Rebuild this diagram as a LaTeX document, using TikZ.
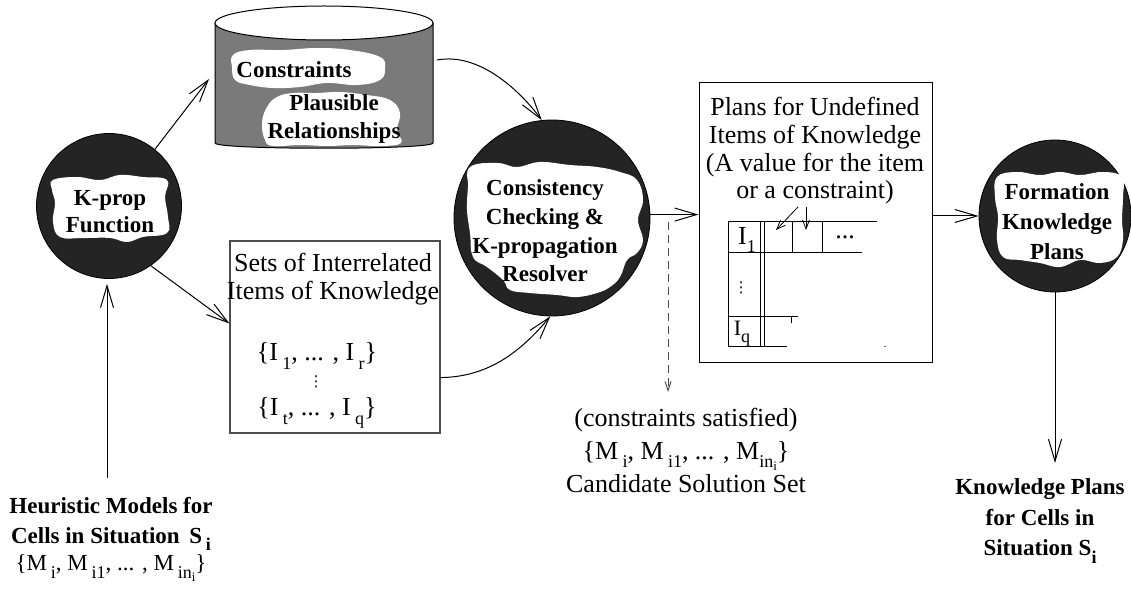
\documentclass[tikz,border=0pt]{standalone}
\usepackage{fontspec}
\setmainfont{Liberation Serif}
\newfontfamily\dotsfont{DejaVu Sans}
\usetikzlibrary{arrows.meta,calc}
% lowered index, set in a smaller size
\newcommand\lw[1]{\raisebox{-0.32em}{\fontsize{18}{18}\selectfont #1}}
\newcommand\lww[1]{\raisebox{-0.18em}{\fontsize{13}{13}\selectfont #1}}
\begin{document}
\begin{tikzpicture}[x=1pt,y=-1pt,
  arr/.style={line width=1pt,-{Straight Barb[length=22pt,width=13pt]}},
  tarr/.style={line width=0.8pt,-{Straight Barb[length=9pt,width=7pt]}},
  dasharr/.style={draw=black!70,line width=1pt,dash pattern=on 8pt off 5pt,-{Straight Barb[length=9pt,width=6pt]}},
  hub/.style={circle,fill=black!86,draw=black,line width=0.8pt,inner sep=0pt},
  blob/.style={fill=white,draw=none},
  lbl/.style={font=\fontsize{26}{28}\selectfont,align=center,inner sep=0pt},
  blbl/.style={font=\bfseries\fontsize{23}{28}\selectfont,align=center,inner sep=0pt},
  vdot/.style={font=\dotsfont\fontsize{15}{15}\selectfont,inner sep=0pt},
  grid/.style={line width=1pt}]
\useasboundingbox (0,0) rectangle (1131,593);

% ---------- database cylinder ----------
\fill[black!52] (215,23) -- (215,143) .. controls (215,150) and (433,150) .. (433,143) -- (433,23) -- cycle;
\draw[line width=1pt] (215,23) -- (215,143) .. controls (215,150) and (433,150) .. (433,143) -- (433,23);
\draw[line width=1pt,fill=white] (324,23) ellipse [x radius=109pt, y radius=17pt];
\fill[blob] plot[smooth cycle,tension=0.7] coordinates {(233,55) (250,50) (283,50) (317,48) (350,50) (380,57)
  (385,68) (380,80) (357,85) (327,83) (300,87) (273,88) (250,85) (235,80) (232,67)};
\fill[blob] plot[smooth cycle,tension=0.7] coordinates {(277,97) (293,93) (317,93) (340,92) (367,95) (390,100)
  (400,113) (397,130) (401,143) (380,146) (353,145) (327,146) (300,145) (273,146) (265,140) (262,123) (267,107)};
\node[blbl] (conslbl) at (294,70) {Constraints};
\node[blbl] (plaulbl) at (334,119) {Plausible\\Relationships};

% ---------- K-prop function ----------
\node[hub,minimum size=145pt] (kprop) at (109,206) {};
\fill[blob] plot[smooth cycle,tension=0.7] coordinates {(53,180) (77,177) (100,180) (120,175) (143,177) (167,180)
  (165,197) (168,217) (167,233) (143,237) (127,242) (110,238) (83,238) (60,237) (53,222) (55,203) (52,190)};
\node[blbl,font=\bfseries\fontsize{23}{27}\selectfont] (kproplbl) at (110,212) {K-prop\\Function};

% ---------- sets of interrelated items ----------
\node[draw=black!70,line width=1.2pt,minimum width=210pt,minimum height=192pt,inner sep=0pt] (sets) at (335,337) {};
\node[lbl] (setslbl) at (333,279) {Sets of Interrelated\\Items of Knowledge};
\node[lbl] (setone) at (317,356) {\{I\,\lw{1}, ... , I\,\lw{r}\}};
\node[vdot] (setdots) at (316,382) {⋮};
\node[lbl] (settwo) at (317,413) {\{I\,\lw{t}, ... , I\,\lw{q}\}};

% ---------- resolver ----------
\node[hub,minimum size=196pt] (resolver) at (552,218) {};
\fill[blob] plot[smooth cycle,tension=0.7] coordinates {(470,167) (497,163) (517,167) (540,162) (570,165) (597,167)
  (620,172) (637,180) (643,200) (638,220) (643,240) (637,253) (627,260) (620,277) (610,287) (597,293) (577,297)
  (557,295) (530,293) (510,290) (503,280) (487,267) (473,257) (470,233) (467,210) (468,187)};
\node[blbl,font=\bfseries\fontsize{23}{28.7}\selectfont] (reslbl) at (545,231) {Consistency\\Checking \&\\K-propagation\\Resolver};

% ---------- plans box with its table ----------
\node[draw,line width=1pt,minimum width=233pt,minimum height=279pt,inner sep=0pt] (plans) at (815.5,222.5) {};
\node[lbl,font=\fontsize{26}{27.7}\selectfont] (planslbl) at (815,151) {Plans for Undefined\\Items of Knowledge\\(A value for the item\\or a constraint)};
\draw[grid] (728,222) -- (877,222);
\draw[grid] (728,253) -- (862,253);
\draw[grid] (728,222) -- (728,346);
\draw[grid] (760,222) -- (760,346);
\draw[grid] (764,222) -- (764,346);
\draw[grid] (792,222) -- (792,253);
\draw[grid] (822,222) -- (822,253);
\draw[grid] (728,316) -- (798,316);
\draw[grid] (791,316) -- (791,323);
\draw[grid] (728,346) -- (787,346);
\draw[black!60,line width=0.8pt] (884,346) -- (886,346);
\node[lbl] (ione) at (747,240) {I\lw{1}};
\node[lbl] (idots) at (845,237) {...};
\node[vdot] (tdots) at (741,288) {⋮};
\node[lbl,font=\fontsize{22}{22}\selectfont] (iq) at (742,334) {I\lw{q}};
\coordinate (ta1) at (798,207);
\coordinate (ta1e) at (776,230);
\coordinate (ta2) at (806,207);
\coordinate (ta2e) at (806,230);
\draw[tarr] (ta1) -- (ta1e);
\draw[tarr] (ta2) -- (ta2e);

% ---------- formation knowledge plans ----------
\node[hub,minimum size=152pt] (form) at (1055,216) {};
\fill[blob] plot[smooth cycle,tension=0.7] coordinates {(997,177) (1017,172) (1040,175) (1060,172) (1080,175) (1103,172)
  (1122,177) (1123,197) (1122,220) (1123,240) (1117,257) (1100,263) (1080,260) (1060,267) (1040,263) (1020,260)
  (1003,257) (997,240) (998,217) (995,197)};
\node[blbl,font=\bfseries\fontsize{23}{30}\selectfont] (formlbl) at (1057,222) {Formation\\Knowledge\\Plans};

% ---------- free labels ----------
\node[blbl,font=\bfseries\fontsize{23}{30}\selectfont] (heur) at (111,524) {Heuristic Models for\\Cells in Situation~\,S\,\lw{i}};
\node[lbl,font=\fontsize{23}{23}\selectfont] (heurset) at (111,568) {\{M\,\lw{i}, M\,\lw{i1}, ... , M\,\lw{in\lww{i}}\}};
\node[lbl,font=\fontsize{26}{33}\selectfont] (cand) at (686,450) {(constraints satisfied)\\\{M\,\lw{i}, M\,\lw{i1}, ... , M\lw{in\lww{i}}\}\\Candidate Solution Set};
\node[blbl,font=\bfseries\fontsize{23}{30.5}\selectfont] (kplans) at (1040,521) {Knowledge Plans\\for Cells in\\Situation S\lw{i}};

% ---------- connectors ----------
\coordinate (cylin) at (209,79);
\coordinate (cylout) at (437,60);
\coordinate (hbase) at (107,478);
\coordinate (kpout) at (1057,463);
\coordinate (dtop) at (668,222);
\coordinate (dbot) at (668,392);
\draw[arr] (kprop.51) -- (cylin);
\draw[arr] (kprop.-55) -- ($(sets.north west)!0.43!(sets.south west)$);
\draw[arr,shorten >=5pt] (hbase) -- (hbase |- kprop.south);
\draw[arr] (cylout) .. controls (480,52) and (521,92) .. (resolver.96);
\draw[arr] ($(sets.north east)!0.71!(sets.south east)$) .. controls (490,377) and (522,350) .. (resolver.-91);
\draw[arr] (resolver.2) -- (resolver.2 -| plans.west);
\draw[arr] (plans.east |- form.west) -- (form.west);
\draw[arr] (form.south) -- (form.south |- kpout);
\draw[dasharr] (dtop) -- (dbot);
\end{tikzpicture}
\end{document}
